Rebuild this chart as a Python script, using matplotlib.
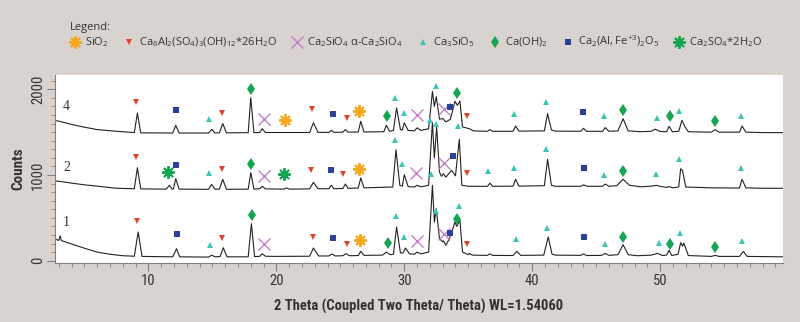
import matplotlib
matplotlib.use('Agg')
import matplotlib.pyplot as plt
from matplotlib import font_manager as fm
import numpy as np

# 图形数据 (2θ, counts) —— 从原图读取
curve1 = [(2.7, 250), (3.0, 238), (3.1, 290), (3.2, 235), (3.6, 215), (4.0, 195), (4.9, 150),
          (6.0, 100), (7.0, 75), (8.0, 58), (8.9, 52), (9.2, 335), (9.5, 50), (11.9, 45),
          (12.2, 140), (12.45, 45), (14.7, 42), (14.95, 65), (15.2, 45), (15.6, 48), (15.85, 152),
          (16.15, 45), (17.8, 45), (18.05, 432), (18.3, 48), (18.7, 50), (18.9, 82), (19.15, 52),
          (20.0, 50), (22.6, 52), (22.9, 148), (23.3, 55), (24.1, 55), (24.35, 78), (24.6, 55),
          (25.2, 58), (25.45, 82), (25.7, 58), (26.4, 60), (26.6, 109), (26.85, 62), (28.3, 65),
          (28.6, 100), (28.9, 70), (29.15, 75), (29.4, 393), (29.7, 90), (29.9, 90), (30.1, 148),
          (30.4, 80), (30.8, 75), (31.0, 100), (31.3, 80), (31.9, 100), (32.2, 880), (32.35, 450),
          (32.5, 607), (32.75, 257), (33.0, 220), (33.05, 232), (33.25, 180), (33.5, 250),
          (33.8, 373), (33.95, 452), (34.1, 400), (34.35, 471), (34.55, 100), (35.0, 70),
          (35.1, 85), (35.3, 65), (36.5, 62), (36.7, 80), (36.9, 62), (38.5, 60), (38.8, 109),
          (39.1, 62), (40.9, 65), (41.25, 277), (41.55, 75), (41.8, 65), (43.8, 62), (44.0, 80),
          (44.25, 60), (45.4, 62), (45.7, 85), (46.0, 62), (46.7, 70), (47.1, 187), (47.5, 70),
          (48.2, 58), (49.3, 65), (49.8, 85), (50.2, 60), (50.5, 65), (50.7, 121), (50.9, 60),
          (51.4, 75), (51.6, 210), (51.75, 170), (51.85, 205), (52.2, 60), (54.0, 50), (54.3, 62),
          (54.6, 50), (56.2, 50), (56.5, 109), (56.8, 50), (58.0, 48), (59.6, 45)]

curve2 = [(2.7, 930), (3.05, 926), (4.0, 905), (4.9, 887), (6.0, 870), (7.5, 845), (8.9, 840),
          (9.14, 1085), (9.4, 838), (11.4, 835), (11.64, 880), (11.85, 835), (11.95, 836),
          (12.14, 957), (12.4, 835), (14.7, 833), (14.94, 891), (15.2, 833), (15.55, 835),
          (15.81, 950), (16.1, 833), (17.8, 835), (18.0, 1027), (18.25, 835), (18.7, 840),
          (18.9, 868), (19.15, 838), (20.6, 835), (20.8, 850), (21.0, 835), (22.6, 838),
          (22.9, 915), (23.25, 840), (24.1, 840), (24.3, 880), (24.5, 840), (25.2, 842),
          (25.4, 895), (25.6, 845), (26.4, 848), (26.6, 965), (26.85, 850), (29.1, 860),
          (29.35, 1295), (29.65, 880), (29.85, 870), (30.0, 1003), (30.3, 865), (30.8, 860),
          (31.0, 880), (31.3, 862), (31.9, 880), (32.2, 1618), (32.35, 1200), (32.53, 1560),
          (32.75, 1035), (32.9, 985), (33.05, 1015), (33.25, 975), (33.7, 1055), (34.0, 990),
          (34.3, 1416), (34.5, 880), (35.0, 868), (36.5, 868), (36.7, 905), (36.9, 868),
          (38.5, 870), (38.7, 950), (38.95, 870), (40.95, 875), (41.2, 1183), (41.5, 880),
          (41.8, 868), (43.8, 868), (44.0, 885), (44.3, 868), (45.5, 868), (45.7, 895),
          (46.0, 868), (46.6, 875), (47.1, 950), (47.6, 880), (48.5, 862), (49.3, 870),
          (49.7, 880), (50.1, 865), (50.5, 855), (50.7, 865), (51.0, 850), (51.45, 860),
          (51.6, 1073), (51.75, 1050), (52.0, 860), (54.0, 850), (56.2, 848), (56.4, 950),
          (56.7, 850), (58.0, 845), (59.6, 845)]

curve4 = [(2.7, 1635), (3.05, 1627), (4.0, 1590), (4.92, 1560), (6.0, 1530), (7.53, 1510),
          (8.9, 1495), (9.14, 1723), (9.4, 1492), (11.9, 1490), (12.14, 1580), (12.4, 1490),
          (14.7, 1490), (14.95, 1533), (15.2, 1490), (15.55, 1492), (15.81, 1600), (16.1, 1492),
          (17.8, 1494), (18.0, 1902), (18.25, 1494), (18.7, 1496), (18.9, 1540), (19.15, 1496),
          (22.6, 1496), (22.9, 1610), (23.25, 1498), (24.1, 1498), (24.3, 1520), (24.5, 1498),
          (25.2, 1500), (25.4, 1530), (25.6, 1500), (26.4, 1502), (26.6, 1627), (26.85, 1502),
          (28.4, 1505), (28.6, 1580), (28.85, 1510), (29.15, 1520), (29.4, 1782), (29.7, 1530),
          (29.85, 1525), (30.0, 1610), (30.3, 1520), (30.8, 1515), (31.0, 1550), (31.3, 1520),
          (31.9, 1540), (32.2, 1975), (32.35, 1800), (32.5, 1915), (32.75, 1650), (33.0, 1660),
          (33.25, 1620), (33.6, 1650), (33.96, 1860), (34.15, 1813), (34.35, 1863), (34.55, 1560),
          (35.1, 1540), (35.4, 1515), (36.5, 1510), (36.7, 1530), (36.9, 1510), (38.5, 1510),
          (38.7, 1572), (38.95, 1512), (40.95, 1515), (41.2, 1716), (41.5, 1525), (41.8, 1512),
          (43.8, 1510), (44.0, 1545), (44.25, 1510), (45.5, 1510), (45.7, 1553), (46.0, 1510),
          (46.7, 1515), (47.1, 1657), (47.5, 1515), (48.5, 1505), (49.3, 1510), (49.6, 1535),
          (50.0, 1508), (50.5, 1505), (50.7, 1568), (50.95, 1505), (51.45, 1510), (51.7, 1638),
          (51.95, 1560), (52.2, 1505), (54.0, 1500), (54.3, 1530), (54.6, 1500), (56.2, 1500),
          (56.4, 1572), (56.7, 1500), (58.0, 1495), (59.6, 1494)]

curve_names = ['1', '2', '4']
curve_label_pos = [(3.6, 443), (3.6, 1085), (3.6, 1800)]

# 物相标记位置
sio2 = [(20.65, 1646), (26.43, 1747), (26.46, 1074), (26.56, 237)]
ettringite = [(9.04, 1852), (15.73, 1720), (22.8, 1767), (25.55, 1665), (34.88, 1688),
              (9.04, 1210), (15.73, 1074), (22.73, 1054), (25.23, 1007), (34.88, 1027),
              (9.1, 460), (15.76, 268), (22.86, 276), (25.55, 190), (34.93, 190)]
c2s = [(19.0, 1650), (31.0, 1696), (33.1, 1774),
       (19.0, 984), (30.9, 1023), (33.13, 1144),
       (19.0, 198), (31.0, 229), (33.13, 307)]
c3s = [(14.77, 1657), (29.24, 1903), (29.95, 1728), (32.0, 1638), (32.45, 2035), (32.45, 1591),
       (34.17, 1568), (38.6, 1707), (41.07, 1852), (45.63, 1688), (49.72, 1665), (51.46, 1747),
       (56.28, 1688),
       (14.77, 1027), (29.24, 1412), (29.84, 1125), (32.09, 1015), (36.57, 1047), (38.6, 1085),
       (41.07, 1307), (45.63, 1004), (49.66, 1007), (51.46, 1190), (56.33, 1081),
       (14.8, 179), (29.32, 518), (29.95, 276), (32.45, 576), (34.28, 634), (38.73, 249),
       (41.13, 381), (45.68, 190), (49.9, 210), (51.54, 323), (56.36, 229)]
portlandite = [(18.05, 2007), (28.67, 1685), (34.15, 1961), (47.06, 1762), (50.76, 1685), (54.27, 1626),
               (18.0, 1125), (47.06, 1047),
               (18.1, 529), (28.72, 206), (34.15, 482), (47.11, 276), (50.76, 198), (54.27, 159)]
c4af = [(12.16, 1755), (24.4, 1716), (33.57, 1794), (43.99, 1735),
        (12.16, 1120), (24.3, 1062), (33.83, 1222), (44.07, 1081),
        (12.2, 311), (24.43, 264), (33.57, 327), (44.04, 276)]
gypsum = [(11.56, 1035), (20.6, 1007)]

# 字体: 找一个窄体给坐标轴用
names = {f.name for f in fm.fontManager.ttflist}
narrow = 'DejaVu Sans'
for cand in ['Roboto Condensed', 'Liberation Sans Narrow', 'Open Sans Condensed',
             'Sofia Sans Semi Condensed', 'Saira SemiCondensed']:
    if cand in names:
        narrow = cand
        break
plt.rcParams['font.family'] = ['Open Sans', 'DejaVu Sans']
plt.rcParams['mathtext.fontset'] = 'custom'
plt.rcParams['mathtext.rm'] = 'Open Sans'
plt.rcParams['mathtext.it'] = 'Open Sans:italic'
plt.rcParams['mathtext.bf'] = 'Open Sans:bold'

bg = '#d9d3cf'
fig = plt.figure(figsize=(8, 3.22), dpi=100, facecolor=bg)
ax = fig.add_axes([55 / 800, 59 / 322, 728 / 800, 188 / 322])
ax.set_facecolor('white')

for c in (curve1, curve2, curve4):
    xs, ys = zip(*c)
    ax.plot(xs, ys, color='#222222', lw=0.8)

for name, (x, y) in zip(curve_names, curve_label_pos):
    ax.text(x, y, name, family=['Liberation Serif', 'DejaVu Serif'], fontsize=10,
            color='#333333', ha='center', va='center')

# 标记 + 图例
styles = [
    (sio2, r'SiO$_2$', dict(marker=(8, 2, 0), color='#f6a71c', ms=9, mew=1.4)),
    (ettringite, r'Ca$_6$Al$_2$(SO$_4$)$_3$(OH)$_{12}$*26H$_2$O',
     dict(marker='v', color='#e2432c', ms=4.5, mew=0)),
    (c2s, r'Ca$_2$SiO$_4$ α-Ca$_2$SiO$_4$', dict(marker='x', color='#c47fc8', ms=9, mew=1.0)),
    (c3s, r'Ca$_3$SiO$_5$', dict(marker='^', color='#3cc4b4', ms=4.5, mew=0)),
    (portlandite, r'Ca(OH)$_2$', dict(marker='d', color='#14a552', ms=6.5, mew=0)),
    (c4af, r'Ca$_2$(Al, Fe$^{+3}$)$_2$O$_5$', dict(marker='s', color='#2b3f9b', ms=5, mew=0)),
    (gypsum, r'Ca$_2$SO$_4$*2H$_2$O', dict(marker=(8, 2, 0), color='#14a552', ms=9, mew=1.4)),
]
for pts, lab, st in styles:
    xs, ys = zip(*pts)
    ax.plot(xs, ys, ls='none', label=lab, **st)

leg = fig.legend(loc='upper left', bbox_to_anchor=(62 / 800, 1 - 14 / 322), ncol=7,
                 frameon=False, title='Legend:', alignment='left', fontsize=8,
                 title_fontsize=8, handlelength=1.0, handletextpad=0.4, columnspacing=1.3,
                 borderpad=0.2, labelspacing=0.1, labelcolor='#333333')
leg.get_title().set_color('#333333')

# 坐标轴
ax.set_xlim(2.7, 59.6)
ax.set_ylim(-27, 2167)
ax.set_xticks([10, 20, 30, 40, 50])
ax.set_xticks(np.arange(3, 60, 1), minor=True)
ax.set_yticks([0, 1000, 2000])
ax.set_yticks(np.arange(0, 2101, 100), minor=True)
ax.set_yticklabels(['0', '1000', '2000'], rotation=90, va='center')
for s in ('top', 'right'):
    ax.spines[s].set_visible(False)
for s in ('left', 'bottom'):
    ax.spines[s].set_color('#808080')
    ax.spines[s].set_linewidth(0.8)
ax.tick_params(which='major', length=6, color='#808080', width=0.8, labelsize=10.5,
               labelcolor='#333333', pad=2)
ax.tick_params(axis='y', which='major', pad=1)
ax.tick_params(which='minor', length=3, color='#808080', width=0.6)
for lbl in ax.get_xticklabels() + ax.get_yticklabels():
    lbl.set_family(narrow)

ax.set_xlabel('2 Theta (Coupled Two Theta/ Theta) WL=1.54060', family=narrow,
              fontsize=10.5, fontweight='bold', color='#333333', labelpad=8)
ax.set_ylabel('Counts', family=narrow, fontsize=11, fontweight='bold',
              color='#333333', labelpad=4)

fig.savefig('out.png', dpi=100, facecolor=bg)
